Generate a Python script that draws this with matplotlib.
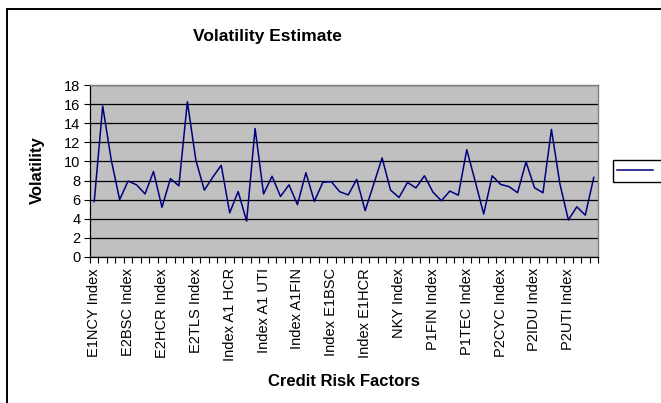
import numpy as np
import matplotlib
matplotlib.use("Agg")
import matplotlib.pyplot as plt
from matplotlib.patches import Rectangle

plt.rcParams['font.family'] = ['Liberation Sans', 'DejaVu Sans']

# every 4th credit risk factor is labelled on the axis
labels = ['E1NCY Index', 'E2BSC Index', 'E2HCR Index', 'E2TLS Index',
          'Index A1 HCR', 'Index A1 UTI', 'Index A1FIN', 'Index E1BSC',
          'Index E1HCR', 'NKY Index', 'P1FIN Index', 'P1TEC Index',
          'P2CYC Index', 'P2IDU Index', 'P2UTI Index']
label_step = 4

volatility = [5.8, 15.8, 10.2, 6.0, 7.95, 7.55, 6.6, 8.95, 5.2, 8.2,
              7.45, 16.25, 10.15, 7.0, 8.35, 9.6, 4.62, 6.85, 3.75, 13.45,
              6.6, 8.45, 6.33, 7.55, 5.48, 8.82, 5.82, 7.82, 7.88, 6.83,
              6.5, 8.12, 4.85, 7.6, 10.37, 7.0, 6.23, 7.8, 7.23, 8.5,
              6.8, 5.88, 6.9, 6.47, 11.23, 7.9, 4.5, 8.5, 7.6, 7.36,
              6.73, 9.95, 7.25, 6.72, 13.35, 7.65, 3.88, 5.25, 4.38, 8.33]

x = np.arange(len(volatility))

fig = plt.figure(figsize=(6.61, 4.03), dpi=100)
ax = fig.add_axes([90 / 661, 1 - 257 / 403, 508 / 661, 172 / 403])
ax.set_facecolor('#C0C0C0')

line, = ax.plot(x, volatility, color='#000080', linewidth=1.1)

ax.set_xlim(-0.5, len(volatility) - 0.5)
ax.set_ylim(0, 18)
ax.set_yticks(np.arange(0, 19, 2))
ax.yaxis.grid(True, color='black', linewidth=0.9)
ax.set_axisbelow(True)

# ticks between categories, labels under every 4th category
ax.set_xticks(np.arange(-0.5, len(volatility), 1))
ax.set_xticklabels([])
ax.set_xticks(x[::label_step], minor=True)
ax.set_xticklabels(labels, minor=True, rotation=90, fontsize=10.5)
ax.tick_params(axis='x', which='major', direction='out', length=4, width=0.8)
ax.tick_params(axis='x', which='minor', length=0, pad=8)
ax.tick_params(axis='y', direction='out', length=4, width=0.8, labelsize=10.5, pad=3)

for side in ['top', 'right']:
    ax.spines[side].set_color('#808080')
    ax.spines[side].set_linewidth(1.0)
for side in ['left', 'bottom']:
    ax.spines[side].set_color('black')
    ax.spines[side].set_linewidth(0.9)

fig.text(267 / 661, 1 - 37 / 403, 'Volatility Estimate', ha='center', va='center',
         fontsize=12.5, fontweight='bold')
fig.text(37 / 661, 1 - 170 / 403, 'Volatility', ha='center', va='center',
         rotation=90, fontsize=12, fontweight='bold')
fig.text(344 / 661, 1 - 381 / 403, 'Credit Risk Factors', ha='center', va='center',
         fontsize=12, fontweight='bold')

# legend with a blank entry, cut off by the right edge
leg = fig.legend(handles=[line], labels=[''], loc='center left',
                 bbox_to_anchor=(613 / 661, 1 - 171 / 403), fancybox=False,
                 edgecolor='black', framealpha=1, handlelength=2.6,
                 borderpad=0.3, borderaxespad=0, fontsize=10)
leg.get_frame().set_linewidth(1.0)

# chart area border
fig.patches.append(Rectangle((7 / 661, -0.2), 1.2, 1.2 - 9 / 403,
                             transform=fig.transFigure, fill=False,
                             edgecolor='black', linewidth=1.4))

fig.savefig('out.png', dpi=100)
